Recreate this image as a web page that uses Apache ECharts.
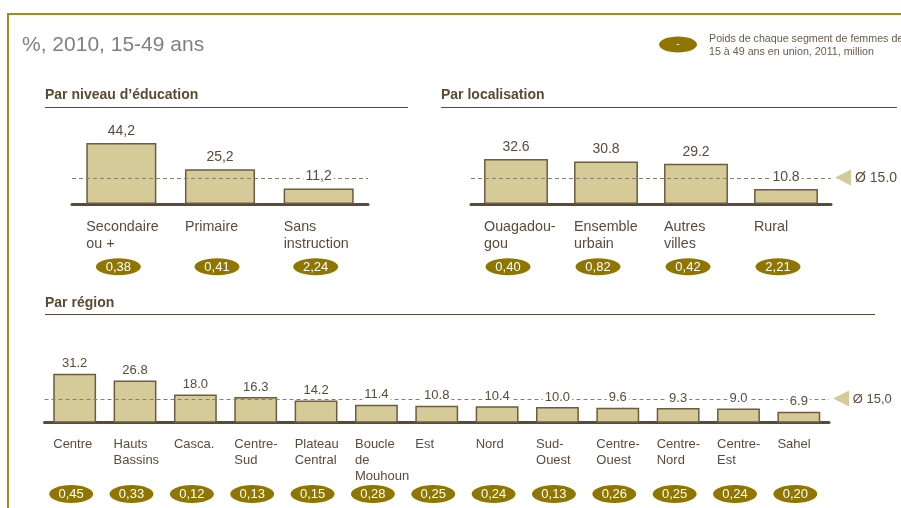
<!DOCTYPE html>
<html>
<head>
<meta charset="utf-8">
<script src="https://cdn.jsdelivr.net/npm/echarts@6/dist/echarts.min.js"></script>
<style>
  html, body { margin: 0; padding: 0; background: #fff; }
  #main { width: 901px; height: 508px; }
</style>
</head>
<body>
<div id="main"></div>
<script>
// données
const eduCats = ['Secondaire\nou +', 'Primaire', 'Sans\ninstruction'];
const eduValues = [44.2, 25.2, 11.2];
const eduWeights = [0.38, 0.41, 2.24];

const locCats = ['Ouagadou-\ngou', 'Ensemble\nurbain', 'Autres\nvilles', 'Rural'];
const locValues = [32.6, 30.8, 29.2, 10.8];
const locWeights = [0.40, 0.82, 0.42, 2.21];

const regCats = ['Centre', 'Hauts\nBassins', 'Casca.', 'Centre-\nSud', 'Plateau\nCentral', 'Boucle\nde\nMouhoun',
    'Est', 'Nord', 'Sud-\nOuest', 'Centre-\nOuest', 'Centre-\nNord', 'Centre-\nEst', 'Sahel'];
const regValues = [31.2, 26.8, 18.0, 16.3, 14.2, 11.4, 10.8, 10.4, 10.0, 9.6, 9.3, 9.0, 6.9];
const regWeights = [0.45, 0.33, 0.12, 0.13, 0.15, 0.28, 0.25, 0.24, 0.13, 0.26, 0.25, 0.24, 0.20];

const avgNational = 15.0;
// dans les deux panneaux du haut la ligne pointillée est dessinée plus haut que 15
const refLineTop = 18.6;

const FONT = '"Liberation Sans", Arial, sans-serif';
const TXT = '#5c4b3a';
const BAR = '#d5cb99';
const BAR_BORDER = '#6e5b40';
const OVAL = '#8e7600';
const BAR_RATIO = 0.71;

function fmt(v, digits, comma) {
    const s = v.toFixed(digits);
    return comma ? s.replace('.', ',') : s;
}

// barres + ligne moyenne
function barSeries(idx, values, fontSize, lineLevel, lineLabel) {
    return {
        type: 'bar',
        xAxisIndex: idx,
        yAxisIndex: idx,
        barWidth: (BAR_RATIO * 100) + '%',
        barGap: '-100%',
        data: values,
        itemStyle: { color: BAR, borderColor: BAR_BORDER, borderWidth: 1.5 },
        z: 2,
        markLine: {
            silent: true,
            symbol: 'none',
            z: 3,
            lineStyle: { color: '#8c7e6c', type: [4, 3], width: 1 },
            label: lineLabel ? {
                show: true,
                position: 'end',
                distance: 4,
                formatter: '{t|◀} ' + lineLabel,
                color: TXT,
                fontSize: fontSize,
                fontFamily: FONT,
                rich: { t: { color: BAR, fontSize: 21, fontFamily: 'DejaVu Sans', padding: [0, 0, 2, 0] } }
            } : { show: false },
            data: [{ yAxis: lineLevel }]
        }
    };
}

// étiquettes de valeur au-dessus de la ligne pointillée
function valueLabels(idx, values, comma, fontSize, dist) {
    return {
        type: 'bar',
        xAxisIndex: idx,
        yAxisIndex: idx,
        barWidth: (BAR_RATIO * 100) + '%',
        barGap: '-100%',
        data: values,
        silent: true,
        itemStyle: { color: 'rgba(0,0,0,0)', borderWidth: 0 },
        z: 5,
        label: {
            show: true,
            position: 'top',
            distance: dist,
            fontSize: fontSize,
            fontFamily: FONT,
            color: TXT,
            backgroundColor: '#fff',
            padding: [0, 2],
            formatter: p => fmt(p.value, 1, comma)
        }
    };
}

function labelSeries(idx, cats, weights, opt) {
    return {
        type: 'custom',
        xAxisIndex: idx,
        yAxisIndex: idx,
        silent: true,
        data: weights.map((w, i) => [i, w]),
        renderItem: function (params, api) {
            const i = api.value(0);
            const base = api.coord([i, 0]);
            const band = api.size([1, 0])[0];
            const left = base[0] - band * BAR_RATIO / 2;
            const cx = base[0] + opt.ovalShift;
            const cy = base[1] + opt.ovalDy;
            return {
                type: 'group',
                children: [{
                    type: 'text',
                    style: {
                        text: cats[i], x: left, y: base[1] + opt.textDy,
                        fill: TXT, fontSize: opt.fontSize, fontFamily: FONT,
                        lineHeight: opt.lineHeight, align: 'left', verticalAlign: 'top'
                    }
                }, {
                    type: 'ellipse',
                    shape: { cx: cx, cy: cy, rx: opt.rx, ry: opt.ry },
                    style: { fill: OVAL }
                }, {
                    type: 'text',
                    style: {
                        text: fmt(weights[i], 2, true), x: cx, y: cy + 0.5,
                        fill: '#fff', fontSize: 13, fontFamily: FONT,
                        align: 'center', verticalAlign: 'middle'
                    }
                }]
            };
        }
    };
}

function catAxis(idx, cats) {
    return {
        type: 'category',
        gridIndex: idx,
        data: cats,
        axisTick: { show: false },
        axisLabel: { show: false },
        axisLine: { lineStyle: { color: '#5b4a36', width: 3 } }
    };
}

function valAxis(idx, max) {
    return { type: 'value', gridIndex: idx, min: 0, max: max, show: false };
}

const chart = echarts.init(document.getElementById('main'));

const option = {
    backgroundColor: '#fff',
    animation: false,
    textStyle: { fontFamily: FONT },
    grid: [
        { left: 72, width: 296, top: 135, height: 69 },
        { left: 471, width: 360, top: 135, height: 69 },
        { left: 44.5, width: 784.5, top: 359.9, height: 62.8 }
    ],
    xAxis: [catAxis(0, eduCats), catAxis(1, locCats), catAxis(2, regCats)],
    yAxis: [valAxis(0, 50), valAxis(1, 50), valAxis(2, 40)],
    graphic: [
        // cadre
        { type: 'rect', shape: { x: 8, y: 14, width: 1000, height: 600 },
          style: { fill: 'none', stroke: '#a08b1d', lineWidth: 2 } },
        { type: 'text', x: 22, y: 45,
          style: { text: '%, 2010, 15-49 ans', fill: '#808080', fontSize: 21, fontFamily: FONT, verticalAlign: 'middle' } },
        // légende
        { type: 'ellipse', shape: { cx: 678, cy: 44.5, rx: 19, ry: 8 }, style: { fill: OVAL } },
        { type: 'text', x: 678, y: 44.5,
          style: { text: '-', fill: '#fff', fontSize: 10, fontFamily: FONT, align: 'center', verticalAlign: 'middle' } },
        { type: 'text', x: 709, y: 45.5,
          style: { text: 'Poids de chaque segment de femmes de\n15 à 49 ans en union, 2011, million', fill: '#6b5c4a',
                   fontSize: 10.7, lineHeight: 13.5, fontFamily: FONT, verticalAlign: 'middle' } },
        // titres de section
        { type: 'text', x: 45, y: 95,
          style: { text: 'Par niveau d’éducation', fill: '#5a4a32', fontSize: 14, fontWeight: 'bold', fontFamily: FONT, verticalAlign: 'middle' } },
        { type: 'line', shape: { x1: 45, y1: 107.5, x2: 408, y2: 107.5 }, style: { stroke: '#5a4a32', lineWidth: 1 } },
        { type: 'text', x: 441, y: 95,
          style: { text: 'Par localisation', fill: '#5a4a32', fontSize: 14, fontWeight: 'bold', fontFamily: FONT, verticalAlign: 'middle' } },
        { type: 'line', shape: { x1: 441, y1: 107.5, x2: 897, y2: 107.5 }, style: { stroke: '#5a4a32', lineWidth: 1 } },
        { type: 'text', x: 45, y: 303,
          style: { text: 'Par région', fill: '#5a4a32', fontSize: 14, fontWeight: 'bold', fontFamily: FONT, verticalAlign: 'middle' } },
        { type: 'line', shape: { x1: 45, y1: 314.5, x2: 875, y2: 314.5 }, style: { stroke: '#5a4a32', lineWidth: 1 } }
    ],
    series: [
        barSeries(0, eduValues, 14, refLineTop, null),
        barSeries(1, locValues, 14, refLineTop, 'Ø ' + fmt(avgNational, 1, false)),
        barSeries(2, regValues, 13, avgNational, 'Ø ' + fmt(avgNational, 1, true)),
        valueLabels(0, eduValues, true, 14, 5),
        valueLabels(1, locValues, false, 14, 5),
        valueLabels(2, regValues, false, 13, 3.5),
        labelSeries(0, eduCats, eduWeights, { textDy: 14.5, lineHeight: 17, fontSize: 14.3, ovalDy: 62.7, ovalShift: -3, rx: 22.5, ry: 8.5 }),
        labelSeries(1, locCats, locWeights, { textDy: 14.5, lineHeight: 17, fontSize: 14.3, ovalDy: 62.7, ovalShift: -8, rx: 22.5, ry: 8.5 }),
        labelSeries(2, regCats, regWeights, { textDy: 13.6, lineHeight: 16, fontSize: 13, ovalDy: 71.3, ovalShift: -3.5, rx: 22, ry: 9 })
    ]
};

chart.setOption(option);
</script>
</body>
</html>
